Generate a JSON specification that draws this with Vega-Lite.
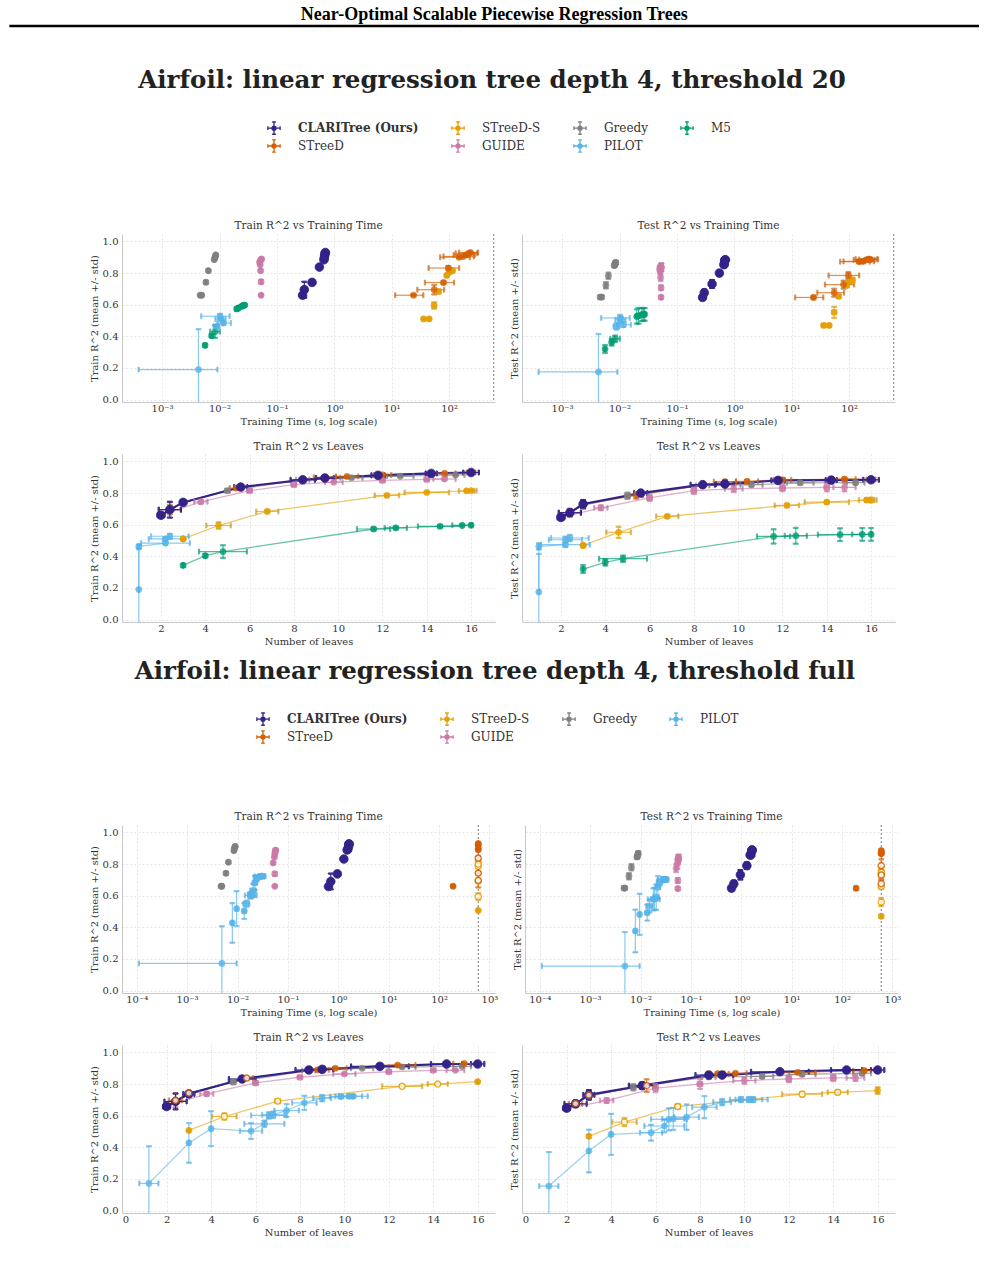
{
  "$schema": "https://vega.github.io/schema/vega-lite/v6.json",
  "background": "white",
  "padding": {"left": 8, "top": 0, "right": 0, "bottom": 0},
  "data": {"values": [
    {"s":1,"m":"M5","L":3,"Le":0,"t":0.0056,"tl":0.0054,"th":0.0058,"tr":0.343,"tre":0.01,"te":0.32,"tee":0.025},
    {"s":1,"m":"M5","L":4,"Le":0,"t":0.0073,"tl":0.007,"th":0.0076,"tr":0.404,"tre":0.01,"te":0.362,"tee":0.02},
    {"s":1,"m":"M5","L":4.8,"Le":1.08,"t":0.0084,"tl":0.0069,"th":0.0101,"tr":0.43,"tre":0.04,"te":0.385,"tee":0.02},
    {"s":1,"m":"M5","L":11.6,"Le":0.75,"t":0.02,"tl":0.019,"th":0.021,"tr":0.573,"tre":0.01,"te":0.526,"tee":0.045},
    {"s":1,"m":"M5","L":12.6,"Le":0.5,"t":0.0215,"tl":0.0205,"th":0.0225,"tr":0.58,"tre":0.008,"te":0.53,"tee":0.05},
    {"s":1,"m":"M5","L":14.6,"Le":1.0,"t":0.0245,"tl":0.0235,"th":0.0255,"tr":0.59,"tre":0.008,"te":0.537,"tee":0.04},
    {"s":1,"m":"M5","L":15.6,"Le":0.45,"t":0.026,"tl":0.025,"th":0.027,"tr":0.596,"tre":0.006,"te":0.539,"tee":0.04},
    {"s":1,"m":"M5","L":16,"Le":0,"t":0.0275,"tl":0.0265,"th":0.0285,"tr":0.597,"tre":0.006,"te":0.539,"tee":0.04},
    {"s":1,"m":"PILOT","L":1,"Le":0,"t":0.0043,"tl":0.00039,"th":0.0092,"tr":0.19,"tre":0.255,"te":0.175,"tee":0.24},
    {"s":1,"m":"PILOT","L":1,"Le":0,"t":0.0089,"tl":0.0079,"th":0.0099,"tr":0.463,"tre":0.01,"te":0.463,"tee":0.02},
    {"s":1,"m":"PILOT","L":2.2,"Le":1.1,"t":0.0117,"tl":0.0092,"th":0.0158,"tr":0.484,"tre":0.01,"te":0.474,"tee":0.015},
    {"s":1,"m":"PILOT","L":2.2,"Le":0.75,"t":0.0106,"tl":0.0085,"th":0.0127,"tr":0.51,"tre":0.01,"te":0.505,"tee":0.02},
    {"s":1,"m":"PILOT","L":2.4,"Le":0.85,"t":0.0102,"tl":0.0048,"th":0.015,"tr":0.527,"tre":0.015,"te":0.516,"tee":0.02},
    {"s":1,"m":"Greedy","L":2,"Le":0,"t":0.0046,"tl":0.0044,"th":0.0048,"tr":0.66,"tre":0.005,"te":0.648,"tee":0.01},
    {"s":1,"m":"Greedy","L":2,"Le":0,"t":0.0049,"tl":0.0047,"th":0.0051,"tr":0.66,"tre":0.005,"te":0.648,"tee":0.01},
    {"s":1,"m":"Greedy","L":3,"Le":0,"t":0.0058,"tl":0.0056,"th":0.006,"tr":0.742,"tre":0.01,"te":0.723,"tee":0.02},
    {"s":1,"m":"Greedy","L":5,"Le":0.1,"t":0.0064,"tl":0.0062,"th":0.0066,"tr":0.815,"tre":0.008,"te":0.783,"tee":0.02},
    {"s":1,"m":"Greedy","L":8.4,"Le":0.3,"t":0.0081,"tl":0.0079,"th":0.0083,"tr":0.885,"tre":0.005,"te":0.848,"tee":0.012},
    {"s":1,"m":"Greedy","L":10.6,"Le":0.5,"t":0.0083,"tl":0.0081,"th":0.0085,"tr":0.897,"tre":0.005,"te":0.853,"tee":0.012},
    {"s":1,"m":"Greedy","L":12.8,"Le":0.6,"t":0.0085,"tl":0.0083,"th":0.0087,"tr":0.907,"tre":0.005,"te":0.865,"tee":0.012},
    {"s":1,"m":"Greedy","L":15.3,"Le":0.4,"t":0.0086,"tl":0.0084,"th":0.0088,"tr":0.915,"tre":0.005,"te":0.866,"tee":0.012},
    {"s":1,"m":"GUIDE","L":2,"Le":0,"t":0.053,"tl":0.052,"th":0.054,"tr":0.66,"tre":0.005,"te":0.647,"tee":0.01},
    {"s":1,"m":"GUIDE","L":3.8,"Le":0.3,"t":0.053,"tl":0.052,"th":0.054,"tr":0.745,"tre":0.012,"te":0.707,"tee":0.015},
    {"s":1,"m":"GUIDE","L":6,"Le":0.1,"t":0.052,"tl":0.051,"th":0.053,"tr":0.815,"tre":0.008,"te":0.77,"tee":0.02},
    {"s":1,"m":"GUIDE","L":8,"Le":0.1,"t":0.051,"tl":0.05,"th":0.052,"tr":0.853,"tre":0.005,"te":0.815,"tee":0.02},
    {"s":1,"m":"GUIDE","L":9.8,"Le":0.4,"t":0.05,"tl":0.049,"th":0.051,"tr":0.869,"tre":0.005,"te":0.827,"tee":0.02},
    {"s":1,"m":"GUIDE","L":12,"Le":0.1,"t":0.052,"tl":0.051,"th":0.053,"tr":0.88,"tre":0.005,"te":0.832,"tee":0.02},
    {"s":1,"m":"GUIDE","L":14,"Le":0.1,"t":0.053,"tl":0.052,"th":0.054,"tr":0.886,"tre":0.005,"te":0.836,"tee":0.025},
    {"s":1,"m":"GUIDE","L":14.8,"Le":0.5,"t":0.054,"tl":0.053,"th":0.055,"tr":0.889,"tre":0.008,"te":0.836,"tee":0.025},
    {"s":1,"m":"STreeD-S","L":3,"Le":0,"t":36,"tl":34,"th":38,"tr":0.51,"tre":0.004,"te":0.469,"tee":0.008},
    {"s":1,"m":"STreeD-S","L":3,"Le":0,"t":45,"tl":43,"th":47,"tr":0.51,"tre":0.004,"te":0.469,"tee":0.008},
    {"s":1,"m":"STreeD-S","L":4.6,"Le":0.55,"t":55,"tl":51,"th":59,"tr":0.595,"tre":0.02,"te":0.552,"tee":0.035},
    {"s":1,"m":"STreeD-S","L":6.8,"Le":0.5,"t":66,"tl":62,"th":70,"tr":0.684,"tre":0.01,"te":0.653,"tee":0.01},
    {"s":1,"m":"STreeD-S","L":12.2,"Le":0.55,"t":91,"tl":86,"th":96,"tr":0.785,"tre":0.008,"te":0.722,"tee":0.01},
    {"s":1,"m":"STreeD-S","L":14,"Le":1.0,"t":100,"tl":95,"th":105,"tr":0.804,"tre":0.006,"te":0.743,"tee":0.01},
    {"s":1,"m":"STreeD-S","L":15.8,"Le":0.35,"t":110,"tl":105,"th":115,"tr":0.814,"tre":0.006,"te":0.756,"tee":0.012},
    {"s":1,"m":"STreeD-S","L":16,"Le":0.25,"t":115,"tl":110,"th":120,"tr":0.815,"tre":0.006,"te":0.756,"tee":0.015},
    {"s":1,"m":"STreeD","L":2,"Le":0,"t":24,"tl":11.5,"th":35.5,"tr":0.66,"tre":0.005,"te":0.646,"tee":0.01},
    {"s":1,"m":"STreeD","L":2.4,"Le":0.5,"t":55,"tl":28,"th":82,"tr":0.695,"tre":0.03,"te":0.676,"tee":0.025},
    {"s":1,"m":"STreeD","L":3,"Le":0.1,"t":80,"tl":38,"th":122,"tr":0.74,"tre":0.01,"te":0.727,"tee":0.025},
    {"s":1,"m":"STreeD","L":5.4,"Le":0.3,"t":97,"tl":44,"th":150,"tr":0.832,"tre":0.012,"te":0.785,"tee":0.02},
    {"s":1,"m":"STreeD","L":9.4,"Le":0.5,"t":150,"tl":70,"th":230,"tr":0.9,"tre":0.005,"te":0.872,"tee":0.01},
    {"s":1,"m":"STreeD","L":10.4,"Le":0.5,"t":175,"tl":80,"th":270,"tr":0.905,"tre":0.005,"te":0.874,"tee":0.01},
    {"s":1,"m":"STreeD","L":12,"Le":0.4,"t":200,"tl":120,"th":280,"tr":0.915,"tre":0.005,"te":0.884,"tee":0.01},
    {"s":1,"m":"STreeD","L":14.8,"Le":0.5,"t":220,"tl":130,"th":310,"tr":0.925,"tre":0.005,"te":0.888,"tee":0.01},
    {"s":1,"m":"STreeD","L":16,"Le":0.2,"t":235,"tl":150,"th":320,"tr":0.93,"tre":0.005,"te":0.886,"tee":0.01},
    {"s":1,"m":"CLARITree (Ours)","L":2,"Le":0.15,"t":0.28,"tl":0.27,"th":0.29,"tr":0.66,"tre":0.008,"te":0.646,"tee":0.01},
    {"s":1,"m":"CLARITree (Ours)","L":2.4,"Le":0.5,"t":0.3,"tl":0.29,"th":0.31,"tr":0.695,"tre":0.05,"te":0.676,"tee":0.02},
    {"s":1,"m":"CLARITree (Ours)","L":3,"Le":0.05,"t":0.41,"tl":0.4,"th":0.42,"tr":0.741,"tre":0.01,"te":0.731,"tee":0.025},
    {"s":1,"m":"CLARITree (Ours)","L":5.6,"Le":0.3,"t":0.55,"tl":0.54,"th":0.56,"tr":0.838,"tre":0.01,"te":0.8,"tee":0.015},
    {"s":1,"m":"CLARITree (Ours)","L":8.4,"Le":0.55,"t":0.66,"tl":0.65,"th":0.67,"tr":0.884,"tre":0.006,"te":0.853,"tee":0.01},
    {"s":1,"m":"CLARITree (Ours)","L":9.4,"Le":0.4,"t":0.67,"tl":0.66,"th":0.68,"tr":0.895,"tre":0.006,"te":0.857,"tee":0.01},
    {"s":1,"m":"CLARITree (Ours)","L":11.8,"Le":0.3,"t":0.68,"tl":0.67,"th":0.69,"tr":0.912,"tre":0.005,"te":0.88,"tee":0.008},
    {"s":1,"m":"CLARITree (Ours)","L":14.2,"Le":0.25,"t":0.69,"tl":0.68,"th":0.7,"tr":0.924,"tre":0.005,"te":0.882,"tee":0.008},
    {"s":1,"m":"CLARITree (Ours)","L":16,"Le":0.35,"t":0.7,"tl":0.69,"th":0.71,"tr":0.93,"tre":0.005,"te":0.884,"tee":0.008},
    {"s":2,"m":"PILOT","L":1.2,"Le":0.43,"t":0.0049,"tl":0.00011,"th":0.0096,"tr":0.172,"tre":0.235,"te":0.155,"tee":0.215},
    {"s":2,"m":"PILOT","L":3,"Le":0,"t":0.0079,"tl":0.0076,"th":0.0082,"tr":0.428,"tre":0.125,"te":0.377,"tee":0.135},
    {"s":2,"m":"PILOT","L":4,"Le":0,"t":0.0096,"tl":0.0093,"th":0.0099,"tr":0.518,"tre":0.11,"te":0.482,"tee":0.13},
    {"s":2,"m":"PILOT","L":5.8,"Le":0.5,"t":0.0136,"tl":0.0126,"th":0.0146,"tr":0.503,"tre":0.05,"te":0.493,"tee":0.05},
    {"s":2,"m":"PILOT","L":6.4,"Le":0.9,"t":0.0151,"tl":0.0131,"th":0.0171,"tr":0.549,"tre":0.02,"te":0.535,"tee":0.04},
    {"s":2,"m":"PILOT","L":6.6,"Le":0.8,"t":0.018,"tl":0.014,"th":0.024,"tr":0.602,"tre":0.02,"te":0.577,"tee":0.07},
    {"s":2,"m":"PILOT","L":6.8,"Le":0.5,"t":0.019,"tl":0.016,"th":0.022,"tr":0.606,"tre":0.02,"te":0.58,"tee":0.07},
    {"s":2,"m":"PILOT","L":7.4,"Le":0.55,"t":0.0205,"tl":0.018,"th":0.023,"tr":0.633,"tre":0.04,"te":0.591,"tee":0.08},
    {"s":2,"m":"PILOT","L":8.2,"Le":0.55,"t":0.0221,"tl":0.02,"th":0.0245,"tr":0.681,"tre":0.045,"te":0.654,"tee":0.07},
    {"s":2,"m":"PILOT","L":9,"Le":0.4,"t":0.024,"tl":0.021,"th":0.027,"tr":0.711,"tre":0.02,"te":0.686,"tee":0.02},
    {"s":2,"m":"PILOT","L":9.85,"Le":0.5,"t":0.028,"tl":0.022,"th":0.034,"tr":0.721,"tre":0.01,"te":0.702,"tee":0.015},
    {"s":2,"m":"PILOT","L":10.2,"Le":0.6,"t":0.03,"tl":0.026,"th":0.034,"tr":0.723,"tre":0.01,"te":0.702,"tee":0.015},
    {"s":2,"m":"PILOT","L":10.4,"Le":0.65,"t":0.031,"tl":0.027,"th":0.036,"tr":0.723,"tre":0.01,"te":0.702,"tee":0.015},
    {"s":2,"m":"Greedy","L":2,"Le":0,"t":0.0047,"tl":0.0045,"th":0.0049,"tr":0.66,"tre":0.005,"te":0.648,"tee":0.01},
    {"s":2,"m":"Greedy","L":2,"Le":0,"t":0.0049,"tl":0.0047,"th":0.0051,"tr":0.66,"tre":0.005,"te":0.648,"tee":0.01},
    {"s":2,"m":"Greedy","L":3,"Le":0,"t":0.0059,"tl":0.0057,"th":0.0061,"tr":0.742,"tre":0.01,"te":0.723,"tee":0.02},
    {"s":2,"m":"Greedy","L":5,"Le":0.1,"t":0.0066,"tl":0.0064,"th":0.0068,"tr":0.812,"tre":0.008,"te":0.78,"tee":0.02},
    {"s":2,"m":"Greedy","L":8.4,"Le":0.3,"t":0.0085,"tl":0.0083,"th":0.0087,"tr":0.885,"tre":0.005,"te":0.845,"tee":0.012},
    {"s":2,"m":"Greedy","L":10.8,"Le":0.5,"t":0.0087,"tl":0.0085,"th":0.0089,"tr":0.9,"tre":0.005,"te":0.849,"tee":0.012},
    {"s":2,"m":"Greedy","L":12.6,"Le":0.6,"t":0.0089,"tl":0.0087,"th":0.0091,"tr":0.908,"tre":0.005,"te":0.862,"tee":0.012},
    {"s":2,"m":"Greedy","L":15.3,"Le":0.4,"t":0.009,"tl":0.0088,"th":0.0092,"tr":0.912,"tre":0.005,"te":0.868,"tee":0.012},
    {"s":2,"m":"GUIDE","L":2,"Le":0,"t":0.055,"tl":0.054,"th":0.056,"tr":0.66,"tre":0.005,"te":0.645,"tee":0.01},
    {"s":2,"m":"GUIDE","L":3.8,"Le":0.3,"t":0.055,"tl":0.054,"th":0.056,"tr":0.738,"tre":0.012,"te":0.696,"tee":0.015},
    {"s":2,"m":"GUIDE","L":6,"Le":0.1,"t":0.051,"tl":0.05,"th":0.052,"tr":0.807,"tre":0.008,"te":0.774,"tee":0.025},
    {"s":2,"m":"GUIDE","L":8,"Le":0.1,"t":0.054,"tl":0.053,"th":0.055,"tr":0.843,"tre":0.005,"te":0.8,"tee":0.03},
    {"s":2,"m":"GUIDE","L":10,"Le":0.5,"t":0.055,"tl":0.054,"th":0.056,"tr":0.864,"tre":0.008,"te":0.822,"tee":0.02},
    {"s":2,"m":"GUIDE","L":12,"Le":0.1,"t":0.056,"tl":0.055,"th":0.057,"tr":0.878,"tre":0.005,"te":0.832,"tee":0.02},
    {"s":2,"m":"GUIDE","L":14,"Le":0.1,"t":0.057,"tl":0.056,"th":0.058,"tr":0.887,"tre":0.005,"te":0.839,"tee":0.02},
    {"s":2,"m":"GUIDE","L":15,"Le":0.4,"t":0.057,"tl":0.056,"th":0.058,"tr":0.887,"tre":0.005,"te":0.839,"tee":0.02},
    {"s":2,"m":"STreeD-S","L":3,"Le":0,"t":600,"tl":590,"th":610,"tr":0.507,"tre":0.005,"te":0.47,"tee":0.01},
    {"s":2,"m":"STreeD-S","L":4.6,"Le":0.55,"t":600,"tl":590,"th":610,"tr":0.595,"tre":0.02,"te":0.56,"tee":0.025,"h":1},
    {"s":2,"m":"STreeD-S","L":7,"Le":0.1,"t":600,"tl":590,"th":610,"tr":0.692,"tre":0.008,"te":0.658,"tee":0.015,"h":1},
    {"s":2,"m":"STreeD-S","L":12.6,"Le":0.9,"t":600,"tl":590,"th":610,"tr":0.786,"tre":0.006,"te":0.736,"tee":0.015,"h":1},
    {"s":2,"m":"STreeD-S","L":14.2,"Le":0.45,"t":600,"tl":590,"th":610,"tr":0.8,"tre":0.006,"te":0.748,"tee":0.012,"h":1},
    {"s":2,"m":"STreeD-S","L":16,"Le":0,"t":600,"tl":590,"th":610,"tr":0.815,"tre":0.006,"te":0.759,"tee":0.02},
    {"s":2,"m":"STreeD","L":2,"Le":0,"t":190,"tl":180,"th":200,"tr":0.66,"tre":0.005,"te":0.647,"tee":0.01},
    {"s":2,"m":"STreeD","L":2.4,"Le":0.3,"t":600,"tl":590,"th":610,"tr":0.697,"tre":0.045,"te":0.676,"tee":0.02,"h":1},
    {"s":2,"m":"STreeD","L":3,"Le":0,"t":600,"tl":590,"th":610,"tr":0.743,"tre":0.01,"te":0.73,"tee":0.025,"h":1},
    {"s":2,"m":"STreeD","L":5.6,"Le":0.3,"t":600,"tl":590,"th":610,"tr":0.838,"tre":0.01,"te":0.79,"tee":0.04,"h":1},
    {"s":2,"m":"STreeD","L":8.8,"Le":0.5,"t":600,"tl":590,"th":610,"tr":0.89,"tre":0.005,"te":0.866,"tee":0.008},
    {"s":2,"m":"STreeD","L":9.6,"Le":0.5,"t":600,"tl":590,"th":610,"tr":0.9,"tre":0.005,"te":0.868,"tee":0.008},
    {"s":2,"m":"STreeD","L":12.4,"Le":0.8,"t":600,"tl":590,"th":610,"tr":0.92,"tre":0.005,"te":0.874,"tee":0.008},
    {"s":2,"m":"STreeD","L":15.4,"Le":0.5,"t":600,"tl":590,"th":610,"tr":0.93,"tre":0.005,"te":0.885,"tee":0.008},
    {"s":2,"m":"CLARITree (Ours)","L":2,"Le":0.15,"t":0.64,"tl":0.62,"th":0.66,"tr":0.658,"tre":0.008,"te":0.648,"tee":0.01},
    {"s":2,"m":"CLARITree (Ours)","L":2.4,"Le":0.5,"t":0.71,"tl":0.69,"th":0.73,"tr":0.69,"tre":0.05,"te":0.675,"tee":0.02},
    {"s":2,"m":"CLARITree (Ours)","L":3,"Le":0.25,"t":0.96,"tl":0.93,"th":0.99,"tr":0.738,"tre":0.01,"te":0.732,"tee":0.03},
    {"s":2,"m":"CLARITree (Ours)","L":5.4,"Le":0.6,"t":1.29,"tl":1.25,"th":1.33,"tr":0.832,"tre":0.01,"te":0.79,"tee":0.02},
    {"s":2,"m":"CLARITree (Ours)","L":8.4,"Le":0.6,"t":1.5,"tl":1.46,"th":1.54,"tr":0.889,"tre":0.006,"te":0.857,"tee":0.01},
    {"s":2,"m":"CLARITree (Ours)","L":9,"Le":0.5,"t":1.55,"tl":1.5,"th":1.6,"tr":0.893,"tre":0.006,"te":0.857,"tee":0.01},
    {"s":2,"m":"CLARITree (Ours)","L":11.6,"Le":1.3,"t":1.6,"tl":1.55,"th":1.65,"tr":0.912,"tre":0.006,"te":0.878,"tee":0.01},
    {"s":2,"m":"CLARITree (Ours)","L":14.6,"Le":0.7,"t":1.62,"tl":1.57,"th":1.67,"tr":0.927,"tre":0.005,"te":0.889,"tee":0.008},
    {"s":2,"m":"CLARITree (Ours)","L":16,"Le":0.3,"t":1.65,"tl":1.6,"th":1.7,"tr":0.927,"tre":0.005,"te":0.889,"tee":0.008}
  ]},
  "spacing": 12,
  "resolve": {"scale": {"fill": "independent", "stroke": "independent"}, "legend": {"fill": "independent", "stroke": "independent"}},
  "vconcat": [
    {
      "data": {"values": [{"h": "Near-Optimal Scalable Piecewise Regression Trees"}]},
      "width": 857, "height": 55,
      "layer": [
        {"mark": {"type": "text", "font": "Liberation Serif", "fontSize": 18, "fontWeight": "bold", "color": "#000", "baseline": "middle"},
         "encoding": {"text": {"field": "h"},
           "x": {"datum": 0.4344, "type": "quantitative", "scale": {"domain": [0, 1]}, "axis": null},
           "y": {"datum": 0.727, "type": "quantitative", "scale": {"domain": [0, 1]}, "axis": null}}},
        {"mark": {"type": "rule", "strokeWidth": 2.5, "color": "#000"},
         "encoding": {"x": {"datum": -0.1315, "type": "quantitative"}, "x2": {"datum": 1.0}, "y": {"datum": 0.527, "type": "quantitative"}}}
      ]
    },
    {
      "title": {"text": "Airfoil: linear regression tree depth 4, threshold 20", "font": "DejaVu Serif", "fontSize": 24.5, "fontWeight": "bold", "color": "#222", "anchor": "middle", "offset": 28},
      "spacing": 15,
      "vconcat": [
        {"spacing": 14, "hconcat": [
          {"title": "Train R^2 vs Training Time", "width": 373, "height": 168, "layer": [
            {"data": {"values": [{"limit": 600}]}, "mark": {"type": "rule", "strokeDash": [2, 2], "color": "#777", "strokeWidth": 1}, "encoding": {"x": {"field": "limit", "type": "quantitative", "title": "Training Time (s, log scale)"}}},
            {"transform": [{"filter": "datum.s==1"}], "mark": {"type": "errorbar", "ticks": {"size": 5}, "thickness": 1.2, "clip": true},
             "encoding": {"x": {"field": "tl", "type": "quantitative", "title": "Training Time (s, log scale)", "scale": {"type": "log", "domain": [0.0002, 631], "nice": false}, "axis": {"values": [0.001, 0.01, 0.1, 1, 10, 100], "labelExpr": "'10' + replace(replace(replace(replace(replace(replace('' + round(log(datum.value)/LN10), '-', '⁻'), '0', '⁰'), '1', '¹'), '2', '²'), '3', '³'), '4', '⁴')"}},
               "x2": {"field": "th"},
               "y": {"field": "tr", "type": "quantitative", "title": "Train R^2 (mean +/- std)", "scale": {"domain": [-0.015, 1.047], "nice": false, "zero": false}, "axis": {"values": [0, 0.2, 0.4, 0.6, 0.8, 1], "format": ".1f", "labelOverlap": false, "tickCount": 6}},
               "stroke": {"field": "m", "type": "nominal", "scale": {"domain": ["CLARITree (Ours)", "STreeD", "STreeD-S", "GUIDE", "Greedy", "PILOT", "M5"], "range": ["#332288", "#D55E00", "#E69F00", "#CC79A7", "#7F7F7F", "#56B4E9", "#009E73"]}},
               "opacity": {"condition": {"test": "datum.m==='CLARITree (Ours)'", "value": 1}, "value": 0.7}}},
            {"transform": [{"filter": "datum.s==1"}], "mark": {"type": "errorbar", "ticks": {"size": 5}, "thickness": 1.2, "clip": true},
             "encoding": {"x": {"field": "t", "type": "quantitative", "title": "Training Time (s, log scale)"}, "y": {"field": "tr", "type": "quantitative", "title": "Train R^2 (mean +/- std)"}, "yError": {"field": "tre"},
               "stroke": {"field": "m", "type": "nominal"},
               "opacity": {"condition": {"test": "datum.m==='CLARITree (Ours)'", "value": 1}, "value": 0.7}}},
            {"transform": [{"filter": "datum.s==1 && datum.h!=1"}], "mark": {"type": "point", "filled": true, "strokeWidth": 0.8},
             "encoding": {"x": {"field": "t", "type": "quantitative", "title": "Training Time (s, log scale)"}, "y": {"field": "tr", "type": "quantitative", "title": "Train R^2 (mean +/- std)"},
               "fill": {"field": "m", "type": "nominal", "scale": {"domain": ["CLARITree (Ours)", "STreeD", "STreeD-S", "GUIDE", "Greedy", "PILOT", "M5"], "range": ["#332288", "#D55E00", "#E69F00", "#CC79A7", "#7F7F7F", "#56B4E9", "#009E73"]},
                 "legend": {"values": ["CLARITree (Ours)", "STreeD", "STreeD-S", "GUIDE", "Greedy", "PILOT", "M5"], "orient": "none", "legendX": 145, "legendY": -113, "columns": 4, "title": null,
                   "symbolType": "M-1,0H1M0,-1V1M-1,-0.3V0.3M1,-0.3V0.3M-0.3,-1H0.3M-0.3,1H0.3M0.33,0A0.33,0.33,0,1,1,-0.33,0A0.33,0.33,0,1,1,0.33,0Z",
                   "symbolSize": 150, "symbolStrokeWidth": 1.3, "labelFontSize": 12, "labelColor": "#333", "columnPadding": 30, "rowPadding": 0, "labelOffset": 17,
                   "encode": {"labels": {"update": {"fontWeight": {"signal": "datum.value === 'CLARITree (Ours)' ? 'bold' : 'normal'"}}}}}},
               "stroke": {"field": "m", "type": "nominal"},
               "opacity": {"condition": {"test": "datum.m==='CLARITree (Ours)'", "value": 1}, "value": 0.8},
               "size": {"condition": {"test": "datum.m==='CLARITree (Ours)'", "value": 75}, "value": 38}}}
          ]},
          {"title": "Test R^2 vs Training Time", "width": 373, "height": 168, "layer": [
            {"data": {"values": [{"limit": 600}]}, "mark": {"type": "rule", "strokeDash": [2, 2], "color": "#777", "strokeWidth": 1}, "encoding": {"x": {"field": "limit", "type": "quantitative", "title": "Training Time (s, log scale)"}}},
            {"transform": [{"filter": "datum.s==1"}], "mark": {"type": "errorbar", "ticks": {"size": 5}, "thickness": 1.2, "clip": true},
             "encoding": {"x": {"field": "tl", "type": "quantitative", "title": "Training Time (s, log scale)", "scale": {"type": "log", "domain": [0.0002, 631], "nice": false}, "axis": {"values": [0.001, 0.01, 0.1, 1, 10, 100], "labelExpr": "'10' + replace(replace(replace(replace(replace(replace('' + round(log(datum.value)/LN10), '-', '⁻'), '0', '⁰'), '1', '¹'), '2', '²'), '3', '³'), '4', '⁴')"}},
               "x2": {"field": "th"},
               "y": {"field": "te", "type": "quantitative", "title": "Test R^2 (mean +/- std)", "scale": {"domain": [-0.015, 1.047], "nice": false, "zero": false}, "axis": {"values": [0, 0.2, 0.4, 0.6, 0.8, 1], "labels": false, "titlePadding": 3, "tickCount": 6}},
               "stroke": {"field": "m", "type": "nominal"},
               "opacity": {"condition": {"test": "datum.m==='CLARITree (Ours)'", "value": 1}, "value": 0.7}}},
            {"transform": [{"filter": "datum.s==1"}], "mark": {"type": "errorbar", "ticks": {"size": 5}, "thickness": 1.2, "clip": true},
             "encoding": {"x": {"field": "t", "type": "quantitative", "title": "Training Time (s, log scale)"}, "y": {"field": "te", "type": "quantitative", "title": "Test R^2 (mean +/- std)"}, "yError": {"field": "tee"},
               "stroke": {"field": "m", "type": "nominal"},
               "opacity": {"condition": {"test": "datum.m==='CLARITree (Ours)'", "value": 1}, "value": 0.7}}},
            {"transform": [{"filter": "datum.s==1 && datum.h!=1"}], "mark": {"type": "point", "filled": true, "strokeWidth": 0.8},
             "encoding": {"x": {"field": "t", "type": "quantitative", "title": "Training Time (s, log scale)"}, "y": {"field": "te", "type": "quantitative", "title": "Test R^2 (mean +/- std)"},
               "fill": {"field": "m", "type": "nominal"}, "stroke": {"field": "m", "type": "nominal"},
               "opacity": {"condition": {"test": "datum.m==='CLARITree (Ours)'", "value": 1}, "value": 0.8},
               "size": {"condition": {"test": "datum.m==='CLARITree (Ours)'", "value": 75}, "value": 38}}}
          ]}
        ]},
        {"spacing": 14, "hconcat": [
          {"title": "Train R^2 vs Leaves", "width": 373, "height": 168, "transform": [{"filter": "datum.s==1"}], "layer": [
            {"mark": {"type": "line", "clip": true},
             "encoding": {"x": {"field": "L", "type": "quantitative", "title": "Number of leaves", "scale": {"domain": [0.24, 17.08], "nice": false, "zero": false}, "axis": {"values": [2, 4, 6, 8, 10, 12, 14, 16]}},
               "y": {"field": "tr", "type": "quantitative", "title": "Train R^2 (mean +/- std)", "scale": {"domain": [-0.015, 1.047], "nice": false, "zero": false}, "axis": {"values": [0, 0.2, 0.4, 0.6, 0.8, 1], "format": ".1f", "labelOverlap": false, "tickCount": 6}},
               "stroke": {"field": "m", "type": "nominal"}, "order": [{"field": "L"}, {"field": "tr"}],
               "opacity": {"condition": {"test": "datum.m==='CLARITree (Ours)'", "value": 1}, "value": 0.6},
               "strokeWidth": {"condition": {"test": "datum.m==='CLARITree (Ours)'", "value": 2.2}, "value": 1.3}}},
            {"mark": {"type": "errorbar", "ticks": {"size": 5}, "thickness": 1.2, "clip": true},
             "encoding": {"x": {"field": "L", "type": "quantitative", "title": "Number of leaves"}, "xError": {"field": "Le"}, "y": {"field": "tr", "type": "quantitative", "title": "Train R^2 (mean +/- std)"},
               "stroke": {"field": "m", "type": "nominal"},
               "opacity": {"condition": {"test": "datum.m==='CLARITree (Ours)'", "value": 1}, "value": 0.7}}},
            {"mark": {"type": "errorbar", "ticks": {"size": 5}, "thickness": 1.2, "clip": true},
             "encoding": {"x": {"field": "L", "type": "quantitative", "title": "Number of leaves"}, "y": {"field": "tr", "type": "quantitative", "title": "Train R^2 (mean +/- std)"}, "yError": {"field": "tre"},
               "stroke": {"field": "m", "type": "nominal"},
               "opacity": {"condition": {"test": "datum.m==='CLARITree (Ours)'", "value": 1}, "value": 0.7}}},
            {"transform": [{"filter": "datum.h!=1"}], "mark": {"type": "point", "filled": true, "strokeWidth": 0.8},
             "encoding": {"x": {"field": "L", "type": "quantitative", "title": "Number of leaves"}, "y": {"field": "tr", "type": "quantitative", "title": "Train R^2 (mean +/- std)"},
               "fill": {"field": "m", "type": "nominal"}, "stroke": {"field": "m", "type": "nominal"},
               "opacity": {"condition": {"test": "datum.m==='CLARITree (Ours)'", "value": 1}, "value": 0.8},
               "size": {"condition": {"test": "datum.m==='CLARITree (Ours)'", "value": 75}, "value": 38}}}
          ]},
          {"title": "Test R^2 vs Leaves", "width": 373, "height": 168, "transform": [{"filter": "datum.s==1"}], "layer": [
            {"mark": {"type": "line", "clip": true},
             "encoding": {"x": {"field": "L", "type": "quantitative", "title": "Number of leaves", "scale": {"domain": [0.24, 17.08], "nice": false, "zero": false}, "axis": {"values": [2, 4, 6, 8, 10, 12, 14, 16]}},
               "y": {"field": "te", "type": "quantitative", "title": "Test R^2 (mean +/- std)", "scale": {"domain": [-0.015, 1.047], "nice": false, "zero": false}, "axis": {"values": [0, 0.2, 0.4, 0.6, 0.8, 1], "labels": false, "titlePadding": 3, "tickCount": 6}},
               "stroke": {"field": "m", "type": "nominal"}, "order": [{"field": "L"}, {"field": "te"}],
               "opacity": {"condition": {"test": "datum.m==='CLARITree (Ours)'", "value": 1}, "value": 0.6},
               "strokeWidth": {"condition": {"test": "datum.m==='CLARITree (Ours)'", "value": 2.2}, "value": 1.3}}},
            {"mark": {"type": "errorbar", "ticks": {"size": 5}, "thickness": 1.2, "clip": true},
             "encoding": {"x": {"field": "L", "type": "quantitative", "title": "Number of leaves"}, "xError": {"field": "Le"}, "y": {"field": "te", "type": "quantitative", "title": "Test R^2 (mean +/- std)"},
               "stroke": {"field": "m", "type": "nominal"},
               "opacity": {"condition": {"test": "datum.m==='CLARITree (Ours)'", "value": 1}, "value": 0.7}}},
            {"mark": {"type": "errorbar", "ticks": {"size": 5}, "thickness": 1.2, "clip": true},
             "encoding": {"x": {"field": "L", "type": "quantitative", "title": "Number of leaves"}, "y": {"field": "te", "type": "quantitative", "title": "Test R^2 (mean +/- std)"}, "yError": {"field": "tee"},
               "stroke": {"field": "m", "type": "nominal"},
               "opacity": {"condition": {"test": "datum.m==='CLARITree (Ours)'", "value": 1}, "value": 0.7}}},
            {"transform": [{"filter": "datum.h!=1"}], "mark": {"type": "point", "filled": true, "strokeWidth": 0.8},
             "encoding": {"x": {"field": "L", "type": "quantitative", "title": "Number of leaves"}, "y": {"field": "te", "type": "quantitative", "title": "Test R^2 (mean +/- std)"},
               "fill": {"field": "m", "type": "nominal"}, "stroke": {"field": "m", "type": "nominal"},
               "opacity": {"condition": {"test": "datum.m==='CLARITree (Ours)'", "value": 1}, "value": 0.8},
               "size": {"condition": {"test": "datum.m==='CLARITree (Ours)'", "value": 75}, "value": 38}}}
          ]}
        ]}
      ]
    },
    {
      "title": {"text": "Airfoil: linear regression tree depth 4, threshold full", "font": "DejaVu Serif", "fontSize": 24.5, "fontWeight": "bold", "color": "#222", "anchor": "middle", "offset": 28},
      "spacing": 15,
      "vconcat": [
        {"spacing": 14, "hconcat": [
          {"title": "Train R^2 vs Training Time", "width": 373, "height": 168, "layer": [
            {"data": {"values": [{"limit": 600}]}, "mark": {"type": "rule", "strokeDash": [2, 2], "color": "#777", "strokeWidth": 1}, "encoding": {"x": {"field": "limit", "type": "quantitative", "title": "Training Time (s, log scale)"}}},
            {"transform": [{"filter": "datum.s==2"}], "mark": {"type": "errorbar", "ticks": {"size": 5}, "thickness": 1.2, "clip": true},
             "encoding": {"x": {"field": "tl", "type": "quantitative", "title": "Training Time (s, log scale)", "scale": {"type": "log", "domain": [0.000051, 1290], "nice": false}, "axis": {"values": [0.0001, 0.001, 0.01, 0.1, 1, 10, 100, 1000], "labelExpr": "'10' + replace(replace(replace(replace(replace(replace('' + round(log(datum.value)/LN10), '-', '⁻'), '0', '⁰'), '1', '¹'), '2', '²'), '3', '³'), '4', '⁴')"}},
               "x2": {"field": "th"},
               "y": {"field": "tr", "type": "quantitative", "title": "Train R^2 (mean +/- std)", "scale": {"domain": [-0.015, 1.047], "nice": false, "zero": false}, "axis": {"values": [0, 0.2, 0.4, 0.6, 0.8, 1], "format": ".1f", "labelOverlap": false, "tickCount": 6}},
               "stroke": {"field": "m", "type": "nominal", "scale": {"domain": ["CLARITree (Ours)", "STreeD", "STreeD-S", "GUIDE", "Greedy", "PILOT", "M5"], "range": ["#332288", "#D55E00", "#E69F00", "#CC79A7", "#7F7F7F", "#56B4E9", "#009E73"]}},
               "opacity": {"condition": {"test": "datum.m==='CLARITree (Ours)'", "value": 1}, "value": 0.7}}},
            {"transform": [{"filter": "datum.s==2"}], "mark": {"type": "errorbar", "ticks": {"size": 5}, "thickness": 1.2, "clip": true},
             "encoding": {"x": {"field": "t", "type": "quantitative", "title": "Training Time (s, log scale)"}, "y": {"field": "tr", "type": "quantitative", "title": "Train R^2 (mean +/- std)"}, "yError": {"field": "tre"},
               "stroke": {"field": "m", "type": "nominal"},
               "opacity": {"condition": {"test": "datum.m==='CLARITree (Ours)'", "value": 1}, "value": 0.7}}},
            {"transform": [{"filter": "datum.s==2 && datum.h!=1"}], "mark": {"type": "point", "filled": true, "strokeWidth": 0.8},
             "encoding": {"x": {"field": "t", "type": "quantitative", "title": "Training Time (s, log scale)"}, "y": {"field": "tr", "type": "quantitative", "title": "Train R^2 (mean +/- std)"},
               "fill": {"field": "m", "type": "nominal", "scale": {"domain": ["CLARITree (Ours)", "STreeD", "STreeD-S", "GUIDE", "Greedy", "PILOT", "M5"], "range": ["#332288", "#D55E00", "#E69F00", "#CC79A7", "#7F7F7F", "#56B4E9", "#009E73"]},
                 "legend": {"values": ["CLARITree (Ours)", "PILOT", "STreeD-S", "STreeD", "Greedy", "GUIDE"], "orient": "none", "legendX": 134, "legendY": -113, "columns": 4, "title": null,
                   "symbolType": "M-1,0H1M0,-1V1M-1,-0.3V0.3M1,-0.3V0.3M-0.3,-1H0.3M-0.3,1H0.3M0.33,0A0.33,0.33,0,1,1,-0.33,0A0.33,0.33,0,1,1,0.33,0Z",
                   "symbolSize": 150, "symbolStrokeWidth": 1.3, "labelFontSize": 12, "labelColor": "#333", "columnPadding": 30, "rowPadding": 0, "labelOffset": 17,
                   "encode": {"labels": {"update": {"fontWeight": {"signal": "datum.value === 'CLARITree (Ours)' ? 'bold' : 'normal'"}}}}}},
               "stroke": {"field": "m", "type": "nominal"},
               "opacity": {"condition": {"test": "datum.m==='CLARITree (Ours)'", "value": 1}, "value": 0.8},
               "size": {"condition": {"test": "datum.m==='CLARITree (Ours)'", "value": 75}, "value": 38}}},
            {"transform": [{"filter": "datum.s==2 && datum.h==1"}], "mark": {"type": "point", "filled": false, "fill": "white", "strokeWidth": 1.4},
             "encoding": {"x": {"field": "t", "type": "quantitative", "title": "Training Time (s, log scale)"}, "y": {"field": "tr", "type": "quantitative", "title": "Train R^2 (mean +/- std)"},
               "stroke": {"field": "m", "type": "nominal"}, "opacity": {"value": 0.8}, "size": {"value": 38}}}
          ]},
          {"title": "Test R^2 vs Training Time", "width": 373, "height": 168, "layer": [
            {"data": {"values": [{"limit": 600}]}, "mark": {"type": "rule", "strokeDash": [2, 2], "color": "#777", "strokeWidth": 1}, "encoding": {"x": {"field": "limit", "type": "quantitative", "title": "Training Time (s, log scale)"}}},
            {"transform": [{"filter": "datum.s==2"}], "mark": {"type": "errorbar", "ticks": {"size": 5}, "thickness": 1.2, "clip": true},
             "encoding": {"x": {"field": "tl", "type": "quantitative", "title": "Training Time (s, log scale)", "scale": {"type": "log", "domain": [0.000051, 1290], "nice": false}, "axis": {"values": [0.0001, 0.001, 0.01, 0.1, 1, 10, 100, 1000], "labelExpr": "'10' + replace(replace(replace(replace(replace(replace('' + round(log(datum.value)/LN10), '-', '⁻'), '0', '⁰'), '1', '¹'), '2', '²'), '3', '³'), '4', '⁴')"}},
               "x2": {"field": "th"},
               "y": {"field": "te", "type": "quantitative", "title": "Test R^2 (mean +/- std)", "scale": {"domain": [-0.015, 1.047], "nice": false, "zero": false}, "axis": {"values": [0, 0.2, 0.4, 0.6, 0.8, 1], "labels": false, "titlePadding": 3, "tickCount": 6}},
               "stroke": {"field": "m", "type": "nominal"},
               "opacity": {"condition": {"test": "datum.m==='CLARITree (Ours)'", "value": 1}, "value": 0.7}}},
            {"transform": [{"filter": "datum.s==2"}], "mark": {"type": "errorbar", "ticks": {"size": 5}, "thickness": 1.2, "clip": true},
             "encoding": {"x": {"field": "t", "type": "quantitative", "title": "Training Time (s, log scale)"}, "y": {"field": "te", "type": "quantitative", "title": "Test R^2 (mean +/- std)"}, "yError": {"field": "tee"},
               "stroke": {"field": "m", "type": "nominal"},
               "opacity": {"condition": {"test": "datum.m==='CLARITree (Ours)'", "value": 1}, "value": 0.7}}},
            {"transform": [{"filter": "datum.s==2 && datum.h!=1"}], "mark": {"type": "point", "filled": true, "strokeWidth": 0.8},
             "encoding": {"x": {"field": "t", "type": "quantitative", "title": "Training Time (s, log scale)"}, "y": {"field": "te", "type": "quantitative", "title": "Test R^2 (mean +/- std)"},
               "fill": {"field": "m", "type": "nominal"}, "stroke": {"field": "m", "type": "nominal"},
               "opacity": {"condition": {"test": "datum.m==='CLARITree (Ours)'", "value": 1}, "value": 0.8},
               "size": {"condition": {"test": "datum.m==='CLARITree (Ours)'", "value": 75}, "value": 38}}},
            {"transform": [{"filter": "datum.s==2 && datum.h==1"}], "mark": {"type": "point", "filled": false, "fill": "white", "strokeWidth": 1.4},
             "encoding": {"x": {"field": "t", "type": "quantitative", "title": "Training Time (s, log scale)"}, "y": {"field": "te", "type": "quantitative", "title": "Test R^2 (mean +/- std)"},
               "stroke": {"field": "m", "type": "nominal"}, "opacity": {"value": 0.8}, "size": {"value": 38}}}
          ]}
        ]},
        {"spacing": 14, "hconcat": [
          {"title": "Train R^2 vs Leaves", "width": 373, "height": 168, "transform": [{"filter": "datum.s==2"}], "layer": [
            {"mark": {"type": "line", "clip": true},
             "encoding": {"x": {"field": "L", "type": "quantitative", "title": "Number of leaves", "scale": {"domain": [-0.01, 16.78], "nice": false, "zero": false}, "axis": {"values": [0, 2, 4, 6, 8, 10, 12, 14, 16]}},
               "y": {"field": "tr", "type": "quantitative", "title": "Train R^2 (mean +/- std)", "scale": {"domain": [-0.015, 1.047], "nice": false, "zero": false}, "axis": {"values": [0, 0.2, 0.4, 0.6, 0.8, 1], "format": ".1f", "labelOverlap": false, "tickCount": 6}},
               "stroke": {"field": "m", "type": "nominal"}, "order": [{"field": "L"}, {"field": "tr"}],
               "opacity": {"condition": {"test": "datum.m==='CLARITree (Ours)'", "value": 1}, "value": 0.6},
               "strokeWidth": {"condition": {"test": "datum.m==='CLARITree (Ours)'", "value": 2.2}, "value": 1.3}}},
            {"mark": {"type": "errorbar", "ticks": {"size": 5}, "thickness": 1.2, "clip": true},
             "encoding": {"x": {"field": "L", "type": "quantitative", "title": "Number of leaves"}, "xError": {"field": "Le"}, "y": {"field": "tr", "type": "quantitative", "title": "Train R^2 (mean +/- std)"},
               "stroke": {"field": "m", "type": "nominal"},
               "opacity": {"condition": {"test": "datum.m==='CLARITree (Ours)'", "value": 1}, "value": 0.7}}},
            {"mark": {"type": "errorbar", "ticks": {"size": 5}, "thickness": 1.2, "clip": true},
             "encoding": {"x": {"field": "L", "type": "quantitative", "title": "Number of leaves"}, "y": {"field": "tr", "type": "quantitative", "title": "Train R^2 (mean +/- std)"}, "yError": {"field": "tre"},
               "stroke": {"field": "m", "type": "nominal"},
               "opacity": {"condition": {"test": "datum.m==='CLARITree (Ours)'", "value": 1}, "value": 0.7}}},
            {"transform": [{"filter": "datum.h!=1"}], "mark": {"type": "point", "filled": true, "strokeWidth": 0.8},
             "encoding": {"x": {"field": "L", "type": "quantitative", "title": "Number of leaves"}, "y": {"field": "tr", "type": "quantitative", "title": "Train R^2 (mean +/- std)"},
               "fill": {"field": "m", "type": "nominal"}, "stroke": {"field": "m", "type": "nominal"},
               "opacity": {"condition": {"test": "datum.m==='CLARITree (Ours)'", "value": 1}, "value": 0.8},
               "size": {"condition": {"test": "datum.m==='CLARITree (Ours)'", "value": 75}, "value": 38}}},
            {"transform": [{"filter": "datum.h==1"}], "mark": {"type": "point", "filled": false, "fill": "white", "strokeWidth": 1.4},
             "encoding": {"x": {"field": "L", "type": "quantitative", "title": "Number of leaves"}, "y": {"field": "tr", "type": "quantitative", "title": "Train R^2 (mean +/- std)"},
               "stroke": {"field": "m", "type": "nominal"}, "opacity": {"value": 0.8}, "size": {"value": 38}}}
          ]},
          {"title": "Test R^2 vs Leaves", "width": 373, "height": 168, "transform": [{"filter": "datum.s==2"}], "layer": [
            {"mark": {"type": "line", "clip": true},
             "encoding": {"x": {"field": "L", "type": "quantitative", "title": "Number of leaves", "scale": {"domain": [-0.01, 16.78], "nice": false, "zero": false}, "axis": {"values": [0, 2, 4, 6, 8, 10, 12, 14, 16]}},
               "y": {"field": "te", "type": "quantitative", "title": "Test R^2 (mean +/- std)", "scale": {"domain": [-0.015, 1.047], "nice": false, "zero": false}, "axis": {"values": [0, 0.2, 0.4, 0.6, 0.8, 1], "labels": false, "titlePadding": 3, "tickCount": 6}},
               "stroke": {"field": "m", "type": "nominal"}, "order": [{"field": "L"}, {"field": "te"}],
               "opacity": {"condition": {"test": "datum.m==='CLARITree (Ours)'", "value": 1}, "value": 0.6},
               "strokeWidth": {"condition": {"test": "datum.m==='CLARITree (Ours)'", "value": 2.2}, "value": 1.3}}},
            {"mark": {"type": "errorbar", "ticks": {"size": 5}, "thickness": 1.2, "clip": true},
             "encoding": {"x": {"field": "L", "type": "quantitative", "title": "Number of leaves"}, "xError": {"field": "Le"}, "y": {"field": "te", "type": "quantitative", "title": "Test R^2 (mean +/- std)"},
               "stroke": {"field": "m", "type": "nominal"},
               "opacity": {"condition": {"test": "datum.m==='CLARITree (Ours)'", "value": 1}, "value": 0.7}}},
            {"mark": {"type": "errorbar", "ticks": {"size": 5}, "thickness": 1.2, "clip": true},
             "encoding": {"x": {"field": "L", "type": "quantitative", "title": "Number of leaves"}, "y": {"field": "te", "type": "quantitative", "title": "Test R^2 (mean +/- std)"}, "yError": {"field": "tee"},
               "stroke": {"field": "m", "type": "nominal"},
               "opacity": {"condition": {"test": "datum.m==='CLARITree (Ours)'", "value": 1}, "value": 0.7}}},
            {"transform": [{"filter": "datum.h!=1"}], "mark": {"type": "point", "filled": true, "strokeWidth": 0.8},
             "encoding": {"x": {"field": "L", "type": "quantitative", "title": "Number of leaves"}, "y": {"field": "te", "type": "quantitative", "title": "Test R^2 (mean +/- std)"},
               "fill": {"field": "m", "type": "nominal"}, "stroke": {"field": "m", "type": "nominal"},
               "opacity": {"condition": {"test": "datum.m==='CLARITree (Ours)'", "value": 1}, "value": 0.8},
               "size": {"condition": {"test": "datum.m==='CLARITree (Ours)'", "value": 75}, "value": 38}}},
            {"transform": [{"filter": "datum.h==1"}], "mark": {"type": "point", "filled": false, "fill": "white", "strokeWidth": 1.4},
             "encoding": {"x": {"field": "L", "type": "quantitative", "title": "Number of leaves"}, "y": {"field": "te", "type": "quantitative", "title": "Test R^2 (mean +/- std)"},
               "stroke": {"field": "m", "type": "nominal"}, "opacity": {"value": 0.8}, "size": {"value": 38}}}
          ]}
        ]}
      ]
    }
  ],
  "config": {
    "font": "DejaVu Serif",
    "view": {"stroke": null},
    "title": {"font": "DejaVu Serif", "fontSize": 10.5, "fontWeight": "normal", "color": "#333", "offset": 2},
    "axis": {"labelFont": "DejaVu Serif", "labelFontSize": 10, "labelColor": "#333", "titleFont": "DejaVu Serif", "titleFontSize": 9.9, "titleFontWeight": "normal", "titleColor": "#333",
      "domainColor": "#c8c8c8", "tickSize": 0, "ticks": false, "gridColor": "#e6e6e6", "gridDash": [2, 2], "labelPadding": 4, "titlePadding": 3, "labelOverlap": false},
    "axisX": {"labelPadding": 1},
    "axisY": {"labelOverlap": false},
    "legend": {"labelFont": "DejaVu Serif", "symbolOpacity": 1}
  }
}
